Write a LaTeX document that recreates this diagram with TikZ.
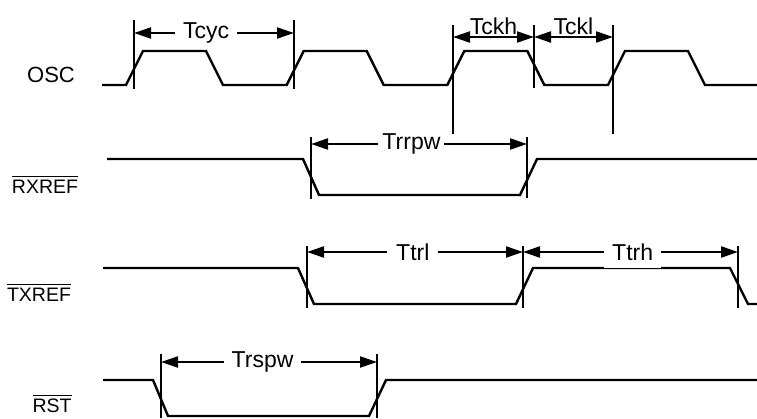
\documentclass[tikz,border=0pt]{standalone}
\usepackage{amsmath}
\usepackage{fontspec}
\setmainfont{Liberation Sans}
\usetikzlibrary{arrows.meta}

\begin{document}
\begin{tikzpicture}[x=1pt, y=-1pt,
        every node/.style = {font=\fontsize{23}{27}\selectfont},
        sig/.style = {line width=2.4pt, line join=miter},
        tick/.style = {line width=2.2pt},
        dim/.style = {line width=2.2pt, {Triangle[length=17pt,width=11pt]}-{Triangle[length=17pt,width=11pt]}},
        tlabel/.style = {fill=white, inner xsep=6pt, inner ysep=2pt},
        signame/.style = {anchor=base, font=\fontsize{19.5}{23}\selectfont}]
    \useasboundingbox (0,0) rectangle (757,418);

    % signal names
    \node[signame, font=\fontsize{22}{26}\selectfont] (osc) at (51,82) {OSC};
    \node[signame] (rxref) at (45,193) {$\overline{\text{RXREF}}$};
    \node[signame] (txref) at (39,301) {$\overline{\text{TXREF}}$};
    \node[signame] (rst) at (52,412) {$\overline{\text{RST}}$};

    % timing markers
    \foreach \x/\a/\b in {134/20/89, 294/20/89, 453/25/134, 534/25/88, 613/25/134,
            311/137/199, 527/137/198, 307/246/308, 523/246/308, 738/246/308,
            161/354/418, 377/354/418}
        \draw[tick] (\x,\a) -- (\x,\b);

    % dimension arrows
    \coordinate (cyc1) at (134,33);  \coordinate (cyc2) at (294,33);
    \coordinate (ckh1) at (453,37);  \coordinate (ckh2) at (534,37);
    \coordinate (ckl2) at (613,37);
    \coordinate (rrpw1) at (311,144); \coordinate (rrpw2) at (527,144);
    \coordinate (trl1) at (307,252); \coordinate (trl2) at (523,252);
    \coordinate (trh2) at (738,252);
    \coordinate (rspw1) at (161,362); \coordinate (rspw2) at (377,362);

    \draw[dim] (cyc1) -- node[tlabel, pos=0.45, inner xsep=8pt] (tcyc) {Tcyc} (cyc2);
    \draw[dim] (ckh1) -- node[above, inner sep=1pt] (tckh) {Tckh} (ckh2);
    \draw[dim] (ckh2) -- node[above, inner sep=1pt] (tckl) {Tckl} (ckl2);
    \draw[dim] (rrpw1) -- node[tlabel, pos=0.465, inner xsep=4pt] (trrpw) {Trrpw} (rrpw2);
    \draw[dim] (trl1) -- node[tlabel, pos=0.49, inner xsep=9pt] (ttrl) {Ttrl} (trl2);

    % waveforms
    \draw[sig] (102,85) foreach \o in {0,160.7,321.3,482}
        { -- ({126+\o},85) -- ({143+\o},51) -- ({206+\o},51) -- ({223+\o},85) } -- (757,85);
    \draw[sig] (107,159) -- (303,159) -- (319,195) -- (520,195) -- (537,159) -- (757,159);
    \draw[sig] (103,268) -- (298,268) -- (314,304) -- (516,304) -- (533,268)
        -- (730,268) -- (748,304) -- (757,304);
    \draw[sig] (103,380) -- (153,380) -- (168,416) -- (369,416) -- (386,380) -- (757,380);

    \draw[dim] (trl2) -- node[tlabel, pos=0.51, inner ysep=8pt, inner xsep=8pt] (ttrh) {Ttrh} (trh2);
    \draw[dim] (rspw1) -- node[tlabel, pos=0.47, inner xsep=8pt] (trspw) {Trspw} (rspw2);
\end{tikzpicture}
\end{document}
